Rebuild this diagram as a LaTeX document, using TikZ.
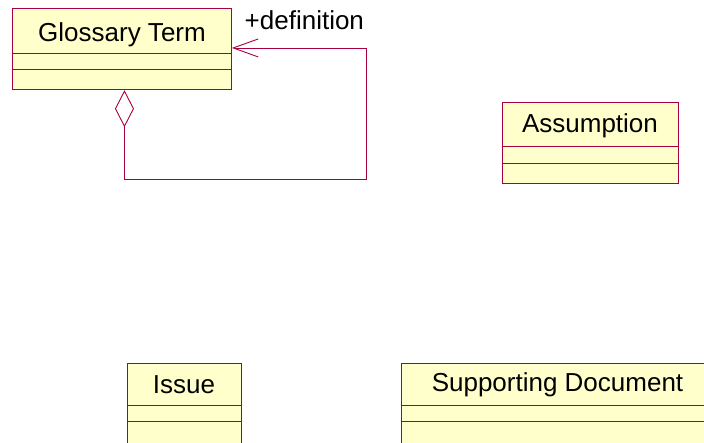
\documentclass[tikz,border=0pt]{standalone}
\usepackage{fontspec}
\setmainfont{Liberation Sans}
\usetikzlibrary{arrows.meta,calc}
\definecolor{umlline}{RGB}{168,0,64}
\definecolor{umlfill}{RGB}{255,255,204}
\tikzset{
  classbox/.style={draw=umlline, fill=umlfill, line width=0.9pt, inner sep=0pt, rectangle, anchor=north west},
  classname/.style={inner sep=0pt, anchor=base, font=\fontsize{26}{26}\selectfont},
  divider/.style={draw=umlline, line width=0.9pt},
  assoc/.style={draw=umlline, line width=0.9pt, line join=miter,
    {Diamond[open, length=37pt, width=19pt, line width=0.9pt]}-{Straight Barb[length=25pt, width=18pt, line width=0.9pt]}},
  rolelabel/.style={inner sep=0pt, anchor=base west, font=\fontsize{26}{26}\selectfont}
}
\begin{document}
\begin{tikzpicture}[x=1pt, y=-1pt]
\useasboundingbox (0,0) rectangle (704,442);
\clip (0,0) rectangle (704,442);
\fill[white] (0,0) rectangle (704,442);

% Glossary Term
\node[classbox, minimum width=219pt, minimum height=81pt] (gt) at (12,8.3) {};
\node[classname] (gtname) at (122,41.7) {Glossary Term};
\draw[divider] (12,53.3) -- (231,53.3);
\draw[divider] (12,69.3) -- (231,69.3);

% Assumption
\node[classbox, minimum width=176.5pt, minimum height=81pt] (as) at (501.8,102.3) {};
\node[classname] (asname) at (590,132.3) {Assumption};
\draw[divider] (501.8,146.7) -- (678.3,146.7);
\draw[divider] (501.8,163.3) -- (678.3,163.3);

% Issue
\node[classbox, minimum width=114.3pt, minimum height=90pt] (is) at (126.7,362.7) {};
\node[classname] (isname) at (184,393.3) {Issue};
\draw[divider] (126.7,405) -- (241,405);
\draw[divider] (126.7,421) -- (241,421);

% Supporting Document
\node[classbox, minimum width=313pt, minimum height=90pt] (sd) at (400.7,362.7) {};
\node[classname] (sdname) at (557.5,391.7) {Supporting Document};
\draw[divider] (400.7,405) -- (714,405);
\draw[divider] (400.7,421) -- (714,421);

% self association
\coordinate (loop) at (366.7,179);
\coordinate (diastart) at ($(gt.south)+(2.5,0)$);
\coordinate (arrend) at ($(gt.east)+(0,-1.3)$);
\draw[assoc] (diastart) |- (loop) |- (arrend);
\node[rolelabel] (role) at (244.5,29.3) {+definition};
\end{tikzpicture}
\end{document}
